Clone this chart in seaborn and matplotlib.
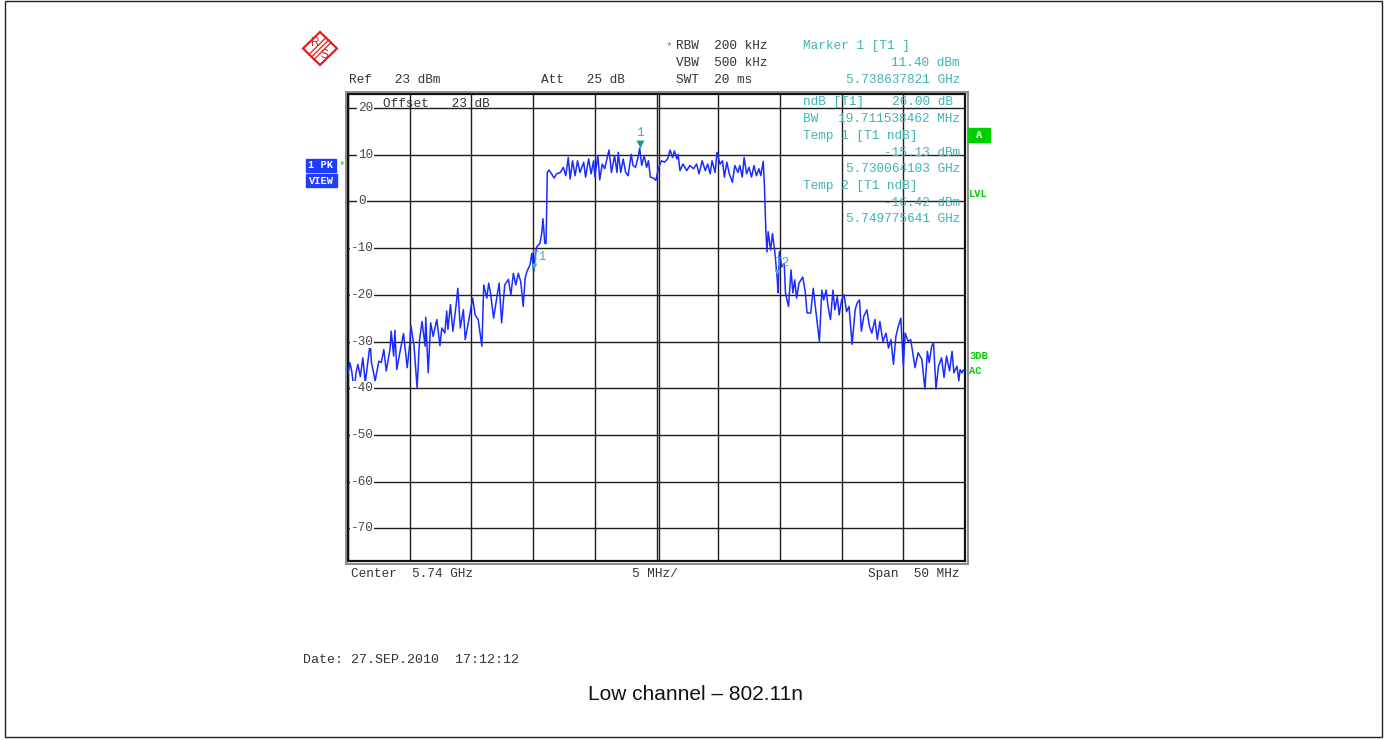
import numpy as np
import pandas as pd
import matplotlib
matplotlib.use("Agg")
import matplotlib.pyplot as plt
import matplotlib.transforms as mtransforms
from matplotlib.patches import Rectangle, Polygon
import seaborn as sns

# ---------------- data ----------------
CENTER_GHZ = 5.74
SPAN_MHZ = 50
REF_DBM = 23
RANGE_DB = 100

freq_offset_mhz = [
    -25.00, -24.85, -24.70, -24.50, -24.35, -24.20, -24.00, -23.80, -23.60, -23.35,
    -23.20, -23.10, -22.80, -22.50, -22.30, -22.10, -21.90, -21.60, -21.50, -21.30,
    -21.20, -21.05, -20.80, -20.50, -20.20, -20.00, -19.90, -19.65, -19.40, -19.20,
    -19.00, -18.75, -18.70, -18.50, -18.30, -18.10, -17.80, -17.55, -17.40, -17.15,
    -17.00, -16.90, -16.70, -16.50, -16.25, -16.10, -15.90, -15.65, -15.50, -15.25,
    -14.90, -14.70, -14.45, -14.15, -14.00, -13.75, -13.60, -13.45, -13.20, -12.95,
    -12.75, -12.55, -12.30, -12.00, -11.80, -11.60, -11.40, -11.20, -11.00, -10.80,
    -10.65, -10.50, -10.25, -10.10, -9.95, -9.80, -9.70, -9.45, -9.30, -9.20,
    -9.05, -8.95, -8.85, -8.70, -8.50, -8.30, -8.10, -7.80, -7.55, -7.35,
    -7.15, -7.00, -6.80, -6.60, -6.40, -6.20, -5.90, -5.75, -5.50, -5.30,
    -5.10, -5.00, -4.75, -4.60, -4.40, -4.20, -3.85, -3.65, -3.40, -3.20,
    -3.10, -2.90, -2.70, -2.50, -2.30, -2.05, -1.90, -1.70, -1.50, -1.36,
    -1.20, -1.00, -0.80, -0.65, -0.50, -0.25, -0.05, 0.15, 0.40, 0.65,
    0.90, 1.10, 1.30, 1.45, 1.65, 1.75, 1.90, 2.15, 2.45, 2.70,
    3.00, 3.25, 3.45, 3.70, 3.95, 4.15, 4.35, 4.50, 4.75, 4.90,
    5.15, 5.35, 5.50, 5.70, 5.90, 6.15, 6.35, 6.60, 6.75, 6.95,
    7.10, 7.30, 7.50, 7.70, 7.90, 8.10, 8.30, 8.45, 8.65, 8.75,
    8.85, 8.95, 9.05, 9.25, 9.40, 9.60, 9.78, 9.85, 9.95, 10.15,
    10.35, 10.45, 10.70, 10.90, 11.05, 11.20, 11.35, 11.55, 11.85, 12.05,
    12.20, 12.50, 12.70, 12.90, 13.20, 13.40, 13.55, 13.75, 13.90, 14.10,
    14.30, 14.45, 14.65, 14.80, 15.00, 15.20, 15.40, 15.60, 15.85, 16.10,
    16.25, 16.45, 16.60, 16.80, 17.05, 17.25, 17.45, 17.70, 17.90, 18.10,
    18.35, 18.60, 18.80, 19.00, 19.20, 19.40, 19.60, 19.80, 20.00, 20.15,
    20.40, 20.60, 20.95, 21.20, 21.50, 21.75, 21.95, 22.10, 22.30, 22.45,
    22.65, 22.85, 23.10, 23.30, 23.50, 23.75, 23.95, 24.10, 24.35, 24.50,
    24.60, 24.75, 24.85, 25.00,
]

level_dbm = [
    -37.0, -34.5, -36.3, -40.6, -36.7, -34.9, -37.5, -33.5, -38.8, -33.5,
    -30.3, -34.5, -38.4, -34.2, -34.5, -31.7, -36.3, -31.7, -27.8, -33.1,
    -27.6, -36.0, -32.4, -28.3, -35.6, -30.6, -26.6, -31.0, -39.9, -29.6,
    -25.7, -31.0, -24.8, -36.7, -26.0, -28.9, -25.3, -30.9, -27.1, -28.2,
    -23.5, -27.4, -22.1, -27.8, -22.5, -18.6, -27.1, -23.2, -29.6, -26.0,
    -20.7, -24.3, -25.3, -31.0, -17.9, -20.7, -17.5, -19.6, -25.0, -20.7,
    -17.5, -26.0, -17.9, -16.7, -20.0, -15.4, -17.9, -15.4, -17.2, -22.5,
    -16.5, -15.0, -13.6, -11.1, -15.1, -11.0, -9.7, -9.0, -6.9, -3.7,
    -9.0, -9.0, 6.2, 6.7, 5.9, 5.0, 5.9, 6.2, 7.3, 5.5,
    9.4, 4.8, 8.7, 5.5, 8.7, 6.2, 8.4, 5.2, 9.1, 5.9,
    8.7, 5.3, 9.8, 4.6, 8.0, 7.0, 11.0, 6.2, 9.8, 6.2,
    10.5, 6.2, 9.1, 6.2, 5.5, 10.1, 7.7, 7.3, 9.4, 11.4,
    7.7, 9.8, 7.3, 8.7, 5.2, 5.0, 4.5, 7.0, 8.7, 8.4,
    9.1, 11.0, 9.4, 10.8, 9.1, 10.1, 6.6, 8.0, 6.6, 7.7,
    7.0, 8.0, 5.9, 8.7, 6.6, 8.0, 5.9, 8.7, 6.2, 10.5,
    8.0, 8.7, 5.2, 8.4, 5.9, 4.1, 7.7, 6.2, 7.7, 5.2,
    9.4, 5.9, 7.3, 5.2, 7.7, 5.5, 7.0, 5.5, 8.6, 3.1,
    -5.5, -10.8, -6.5, -10.4, -6.9, -11.1, -16.4, -19.6, -10.8, -14.0,
    -13.3, -19.6, -22.5, -14.7, -19.6, -16.8, -20.7, -17.5, -16.2, -19.3,
    -23.9, -23.9, -18.6, -23.2, -30.0, -19.0, -21.1, -19.0, -22.5, -25.3,
    -19.0, -23.2, -20.4, -24.3, -21.1, -20.0, -23.6, -22.5, -30.6, -23.2,
    -21.8, -21.1, -27.8, -24.6, -23.2, -26.7, -28.2, -25.3, -29.6, -25.7,
    -30.0, -28.2, -31.4, -29.6, -34.9, -28.9, -26.7, -25.0, -35.3, -28.2,
    -30.0, -29.6, -35.6, -32.4, -33.8, -40.2, -32.1, -34.5, -31.0, -30.3,
    -40.2, -35.3, -33.5, -37.7, -33.1, -36.3, -32.1, -36.7, -35.3, -38.4,
    -36.0, -36.7, -36.1, -36.5,
]

marker_labels = ["1", "T1", "T2"]
marker_freq_ghz = [5.738637821, 5.730064103, 5.749775641]
marker_level_dbm = [11.40, -15.13, -16.42]

y_tick_values = [20, 10, 0, -10, -20, -30, -40, -50, -60, -70]

header_left = ["Ref   23 dBm", "Att   25 dB"]
header_setup = ["RBW  200 kHz", "VBW  500 kHz", "SWT  20 ms"]
marker_block = ["Marker 1 [T1 ]", "11.40 dBm", "5.738637821 GHz"]
ndb_block = ["ndB [T1]", "26.00 dB", "BW", "19.711538462 MHz",
             "Temp 1 [T1 ndB]", "-15.13 dBm", "5.730064103 GHz",
             "Temp 2 [T1 ndB]", "-16.42 dBm", "5.749775641 GHz"]
footer = ["Center  5.74 GHz", "5 MHz/", "Span  50 MHz"]
date_text = "Date: 27.SEP.2010  17:12:12"
caption = "Low channel \u2013 802.11n"

# ---------------- style ----------------
sns.set_style("white")
plt.rcParams["font.family"] = ["Liberation Mono", "DejaVu Sans Mono"]

MONO = "Liberation Mono"
FS = 9.2
TEAL = "#3fb3b3"
TEAL_DARK = "#0a9a9a"
GREEN = "#00d000"
BLUE_BOX = "#1f3dff"
TRACE = "#1a2cff"
GRAY_TXT = "#4a4a4a"

W, H = 1386, 740
fig = plt.figure(figsize=(W / 100, H / 100), dpi=100)
fig.patch.set_facecolor("white")

# main plot area (pixel geometry of the reference)
L, R, T, B = 348, 965, 94, 561
ax = fig.add_axes([L / W, 1 - B / H, (R - L) / W, (B - T) / H])

df = pd.DataFrame({
    "freq": CENTER_GHZ + np.array(freq_offset_mhz) / 1000.0,
    "level": level_dbm,
})

fmin = CENTER_GHZ - SPAN_MHZ / 2000.0
fmax = CENTER_GHZ + SPAN_MHZ / 2000.0
ax.set_xlim(fmin, fmax)
ax.set_ylim(REF_DBM - RANGE_DB, REF_DBM)
ax.set_xticks(np.linspace(fmin, fmax, 11))
ax.set_yticks(y_tick_values)
ax.grid(True, color="#1e1e1e", linewidth=1.0)
ax.tick_params(left=False, bottom=False, labelleft=False, labelbottom=False)
for sp in ax.spines.values():
    sp.set_visible(True)
    sp.set_color("#111111")
    sp.set_linewidth(1.6)
# doubled centre line
ax.axvline(CENTER_GHZ + 0.00017, color="#1e1e1e", linewidth=1.0, zorder=1)

sns.lineplot(data=df, x="freq", y="level", ax=ax, color=TRACE, linewidth=1.1,
             estimator=None, sort=False, legend=False, zorder=3)
ax.set_xlabel("")
ax.set_ylabel("")

# y labels inside the plot
ytrans = ax.get_yaxis_transform()
for v in y_tick_values:
    xpos = 0.004 if v < 0 else 0.0162
    ax.text(xpos, v, str(v), transform=ytrans, ha="left", va="center",
            fontsize=FS, family=MONO, color=GRAY_TXT, zorder=4,
            bbox=dict(facecolor="white", edgecolor="none", pad=0.6))

# markers
for lab, f, lv in zip(marker_labels, marker_freq_ghz, marker_level_dbm):
    if lab == "1":
        tri = mtransforms.offset_copy(ax.transData, fig=fig, x=0, y=4, units="dots")
        ax.scatter([f], [lv], marker="v", s=32, color=TEAL_DARK, transform=tri,
                   zorder=5, linewidths=0)
        ax.annotate(lab, (f, lv), xytext=(0, 15.5), textcoords="offset pixels",
                    ha="center", va="center", fontsize=FS, family=MONO,
                    color=TEAL, zorder=5)
    else:
        tri = mtransforms.offset_copy(ax.transData, fig=fig, x=0, y=6, units="dots")
        ax.scatter([f], [lv], marker="v", s=18, color=TEAL, transform=tri,
                   zorder=5, linewidths=0)
        ax.annotate(lab, (f, lv), xytext=(5, 15), textcoords="offset pixels",
                    ha="center", va="center", fontsize=FS, family=MONO,
                    color=TEAL, zorder=5)

# ---------------- overlay in pixel coordinates ----------------
ov = fig.add_axes([0, 0, 1, 1], zorder=10)
ov.set_xlim(0, W)
ov.set_ylim(H, 0)
ov.axis("off")

def txt(x, y, s, ha="left", color="#333333", size=FS, weight="normal", family=MONO):
    ov.text(x, y, s, ha=ha, va="center", fontsize=size, color=color,
            family=family, fontweight=weight)

# outer frame (double line look)
ov.add_patch(Rectangle((345.5, 91.5), 622, 472, fill=False, edgecolor="#8a8a8a", lw=1.4))
# figure border
ov.add_patch(Rectangle((5, 0.5), 1376.5, 736, fill=False, edgecolor="#222222", lw=1.0))

# R&S logo
cx, cy = 320, 48.5
ov.add_patch(Polygon([(cx, cy - 16.5), (cx + 17, cy), (cx, cy + 16.5), (cx - 17, cy)],
                     closed=True, fill=False, edgecolor="#e02020", lw=1.6))
for d in (-2.5, 0, 2.5):
    ov.plot([cx - 9 + d, cx + 9 + d], [cy + 9 + d, cy - 9 + d], color="#e02020", lw=0.9)
ov.text(cx - 5, cy - 6, "R", ha="center", va="center", fontsize=8.5, color="#e02020",
        family="Liberation Sans")
ov.text(cx + 4, cy + 7, "S", ha="center", va="center", fontsize=8.5, color="#e02020",
        family="Liberation Sans")

# header
txt(349, 80, header_left[0])
txt(541, 80, header_left[1])
txt(669, 46, "*", ha="center", color=GREEN, size=8)
for i, s in enumerate(header_setup):
    txt(676, 46 + 17 * i, s)

# marker block (teal)
txt(803, 46, marker_block[0], color=TEAL)
txt(960, 63, marker_block[1], ha="right", color=TEAL)
txt(960, 80, marker_block[2], ha="right", color=TEAL)

txt(803, 102, ndb_block[0], color=TEAL)
txt(953, 102, ndb_block[1], ha="right", color=TEAL)
txt(803, 119, ndb_block[2], color=TEAL)
txt(960, 119, ndb_block[3], ha="right", color=TEAL)
txt(803, 136, ndb_block[4], color=TEAL)
txt(960, 152.5, ndb_block[5], ha="right", color=TEAL)
txt(960, 169, ndb_block[6], ha="right", color=TEAL)
txt(803, 186, ndb_block[7], color=TEAL)
txt(960, 202.5, ndb_block[8], ha="right", color=TEAL)
txt(960, 219.5, ndb_block[9], ha="right", color=TEAL)

# offset label
txt(383, 104, "Offset   23 dB")

# left status boxes
ov.add_patch(Rectangle((306, 159), 30, 13, color=BLUE_BOX))
ov.add_patch(Rectangle((306, 174), 31, 13, color=BLUE_BOX))
txt(321, 165.5, "1 PK", ha="center", color="white", size=7.5, weight="bold")
txt(321.5, 180.5, "VIEW", ha="center", color="white", size=7.5, weight="bold")
txt(342, 165, "*", ha="center", color=GREEN, size=8)

# right status labels
ov.add_patch(Rectangle((968, 128), 22, 14, color=GREEN))
txt(979, 135, "A", ha="center", color="white", size=7.5, weight="bold")
txt(969, 194, "LVL", color=GREEN, size=7.5, weight="bold")
txt(969, 356, "3DB", color=GREEN, size=7.5, weight="bold")
txt(969, 371, "AC", color=GREEN, size=7.5, weight="bold")

# footer
txt(351, 574, footer[0])
txt(632, 574, footer[1])
txt(960, 574, footer[2], ha="right")
txt(303, 660, date_text, size=9.6)

ov.text(696, 694, caption, ha="center", va="center", fontsize=15,
        family="Liberation Sans", color="#111111")

fig.savefig("out.png", dpi=100, facecolor="white")
